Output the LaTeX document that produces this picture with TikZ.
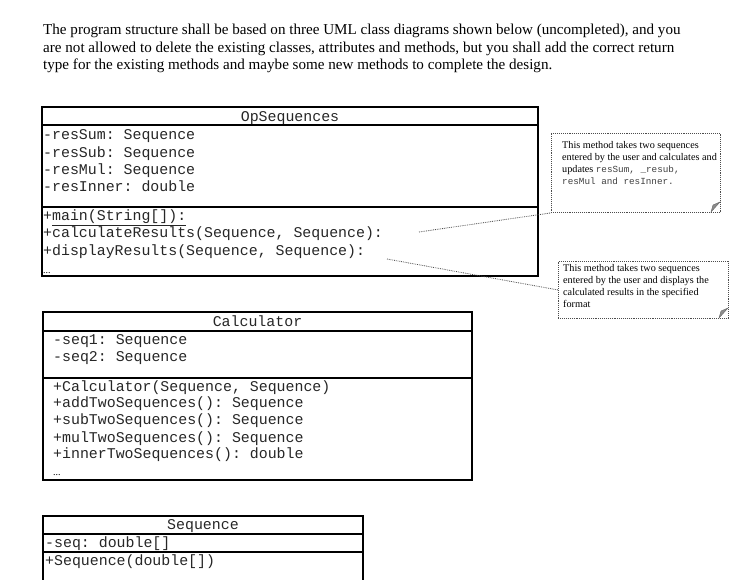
\documentclass[tikz,border=0pt]{standalone}
\usepackage{fontspec}
\setmainfont{Liberation Serif}
\setmonofont{Liberation Mono}
\begin{document}
\begin{tikzpicture}[x=1pt,y=-1pt,
  boxline/.style={line width=1.3pt},
  thickline/.style={line width=2pt},
  intro/.style={font=\fontsize{15.1}{17.5}\selectfont, anchor=base west, inner sep=0pt},
  mono/.style={font=\fontsize{14.9}{17}\ttfamily, anchor=base west, inner sep=0pt, text=black!85},
  monoc/.style={font=\fontsize{14.9}{17}\ttfamily, anchor=base, inner sep=0pt, text=black!85},
  dots/.style={font=\fontsize{10}{10}\selectfont, anchor=base west, inner sep=0pt},
  notebox/.style={draw=black!70, densely dotted, line width=0.9pt, inner sep=0pt, anchor=north west},
  notetext/.style={font=\fontsize{10.2}{12}\selectfont, anchor=north west, align=left, inner sep=0pt},
  conn/.style={draw=black!70, densely dotted, line width=0.8pt},
  fold/.style={fill=black!45, draw=black!60, line width=0.4pt}]
\useasboundingbox (0,0) rectangle (739,580);

% intro text
\node[intro] (i1) at (43,35) {The program structure shall be based on three UML class diagrams shown below (uncompleted), and you};
\node[intro] (i2) at (43,52.5) {are not allowed to delete the existing classes, attributes and methods, but you shall add the correct return};
\node[intro] (i3) at (43,70) {type for the existing methods and maybe some new methods to complete the design.};

% OpSequences
\draw[boxline] (42,107) rectangle (538,276);
\draw[boxline] (42,125) -- (538,125);
\draw[boxline] (42,207) -- (538,207);
\draw[thickline] (42,107) -- (42,276);
\node[monoc] (opname) at (290,121.5) {OpSequences};
\node[mono] (a1) at (43,140) {-resSum: Sequence};
\node[mono] (a2) at (43,157.5) {-resSub: Sequence};
\node[mono] (a3) at (43,174.5) {-resMul: Sequence};
\node[mono] (a4) at (43,191.5) {-resInner: double};
\node[mono] (m1) at (43,221) {+\underline{main(String[]):}};
\node[mono] (m2) at (43,238) {+calculateResults(Sequence, Sequence):};
\node[mono] (m3) at (43,255.5) {+displayResults(Sequence, Sequence):};
\node[dots] (d1) at (43,273) {...};

% Calculator
\draw[boxline] (43,312) rectangle (472,480);
\draw[boxline] (43,331) -- (472,331);
\draw[boxline] (43,378) -- (472,378);
\draw[thickline] (43,312) -- (43,480);
\node[monoc] (cname) at (257.5,326.5) {Calculator};
\node[mono] (c1) at (53,344.5) {-seq1: Sequence};
\node[mono] (c2) at (53,361.5) {-seq2: Sequence};
\node[mono] (c3) at (53,391) {+Calculator(Sequence, Sequence)};
\node[mono] (c4) at (53,407.5) {+addTwoSequences(): Sequence};
\node[mono] (c5) at (53,424.5) {+subTwoSequences(): Sequence};
\node[mono] (c6) at (53,442) {+mulTwoSequences(): Sequence};
\node[mono] (c7) at (53,458.5) {+innerTwoSequences(): double};
\node[dots] (d2) at (53,475) {...};

% Sequence
\draw[boxline] (43,580) -- (43,516) -- (363,516) -- (363,580);
\draw[thickline] (43,516) -- (43,580);
\draw[boxline] (43,534) -- (363,534);
\draw[thickline] (43,552) -- (363,552);
\node[monoc] (sname) at (203,529.5) {Sequence};
\node[mono] (s1) at (45,547.5) {-seq: double[]};
\node[mono] (s2) at (45,565.5) {+Sequence(double[])};

% Note 1
\node[notebox, minimum width=169pt, minimum height=79pt] (n1) at (551,133) {};
\node[notetext] (t1) at (562,141)
  {This method takes two sequences\\
   entered by the user and calculates and\\
   updates {\fontsize{9.3}{12}\ttfamily\color{black!75}resSum, \_resub,}\\
   {\fontsize{9.3}{12}\ttfamily\color{black!75}resMul and resInner.}};
\fill[fold] (711,212) -- (720,202) -- (713,205) -- cycle;

% Note 2
\node[notebox, minimum width=170pt, minimum height=57pt] (n2) at (558,261) {};
\node[notetext] (t2) at (563,264.5)
  {This method takes two sequences\\
   entered by the user and displays the\\
   calculated results in the specified\\
   format};
\fill[fold] (719,318) -- (728,308) -- (721,311) -- cycle;

% connectors
\coordinate (k1) at (419,232);
\coordinate (k2) at (387,259);
\draw[conn] (k1) -- (n1.south west);
\draw[conn] (k2) -- (n2.west);
\end{tikzpicture}
\end{document}
